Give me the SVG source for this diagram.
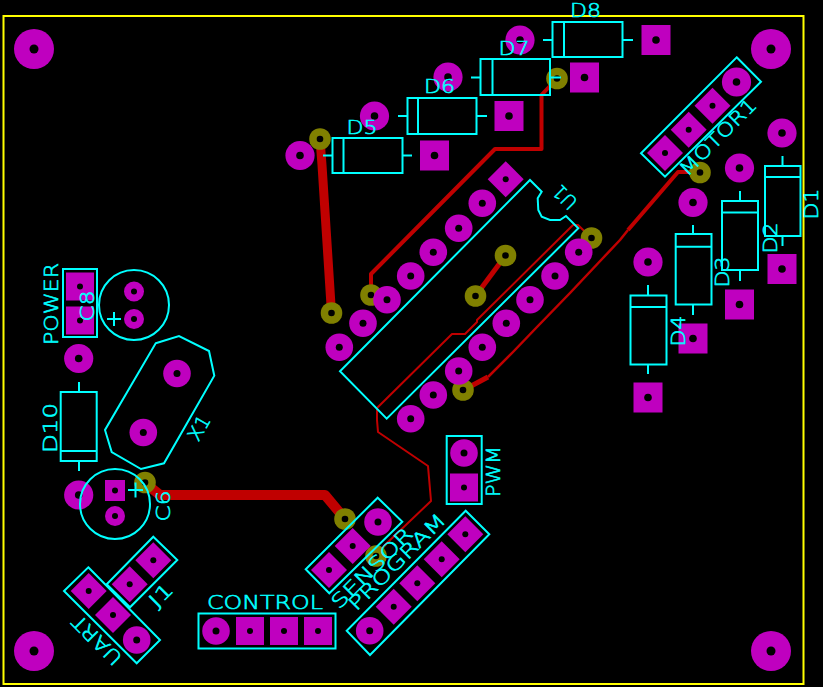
<svg xmlns="http://www.w3.org/2000/svg" xmlns:xlink="http://www.w3.org/1999/xlink" width="823" height="687" viewBox="0 0 823 687">
<style>
.s{fill:none;stroke:#00ffff;stroke-width:2}
.t{fill:#00ffff;stroke:#00ffff;stroke-width:.6;font-family:"DejaVu Sans","Liberation Sans",sans-serif;font-weight:200;font-size:19px;text-anchor:middle}
.p{fill:#bf00bf}
.h{fill:#000}
.v{fill:#808000}
.r{fill:none;stroke:#c00000;stroke-linejoin:round}
</style>
<defs>
<g id="padR"><circle class="p" r="13.8"/><circle class="h" r="3.5"/></g>
<g id="padL"><circle class="p" r="14.6"/><circle class="h" r="3.8"/></g>
<g id="padM"><circle class="p" r="20"/><circle class="h" r="4.5"/></g>
<g id="padC"><circle class="p" r="10"/><circle class="h" r="3"/></g>
<g id="padS"><rect class="p" x="-14.500" y="-15" width="29" height="30"/><circle class="h" r="3.800"/></g>
<g id="padQ"><rect class="p" x="-14" y="-14" width="28" height="28"/><circle class="h" r="3"/></g>
<g id="padD"><path class="p" d="M0-18 18 0 0 18-18 0Z"/><circle class="h" r="3"/></g>
<g id="via"><circle class="v" r="10.800"/><circle class="h" r="3.300"/></g>
</defs>
<rect width="823" height="687" fill="#000"/>
<rect x="3.500" y="16" width="800" height="668" fill="none" stroke="#ffff00" stroke-width="2"/>

<g id="connectors">
<path class="r" stroke-width="9" d="M320 139 322 165 331.500 313"/>
<path class="r" stroke-width="10" d="M145 483 160 495H325L345 519"/>
<path class="r" stroke-width="4" d="M371 295V274L495 149H541.500V95L557 78.500"/>
<path class="r" stroke-width="5" d="M505.500 255.500 475.500 296"/>
<path class="r" stroke-width="4" d="M700 172H678L628 230"/>
<path class="r" stroke-width="2.500" d="M628 230 620 240 603 258 570 293 537 327 513 352 488 377"/>
<path class="r" stroke-width="5" d="M488 377 473 385 463 390"/>
<path class="r" stroke-width="2" d="M591.500 238 578 225H573L477 320V322L465 334H452L377 408 377 420 378 432 428 466 431 501 387 543 376 556"/>
</g>

<g id="vias">
<use href="#via" x="320" y="139"/>
<use href="#via" x="331.500" y="313"/>
<use href="#via" x="371" y="295"/>
<use href="#via" x="557" y="78.500"/>
<use href="#via" x="700" y="172.500"/>
<use href="#via" x="591.500" y="238"/>
<use href="#via" x="505.500" y="255.500"/>
<use href="#via" x="475.500" y="296"/>
<use href="#via" x="463" y="390"/>
<use href="#via" x="145" y="482.500"/>
<use href="#via" x="345" y="519"/>
<use href="#via" x="376" y="556"/>
</g>

<g id="holes">
<use href="#padM" x="34" y="49"/>
<use href="#padM" x="771" y="49"/>
<use href="#padM" x="34" y="651"/>
<use href="#padM" x="771" y="651"/>
</g>

<g id="D8">
<use href="#padL" x="520" y="40"/><use href="#padS" x="656" y="40"/>
<path class="s" d="M543 40H552.500M622.500 40H633M564 22V57"/><rect class="s" x="552.500" y="22" width="70" height="35"/>
<text class="t" transform="translate(585.500,10.500)" y="6.500" textLength="31" lengthAdjust="spacingAndGlyphs">D8</text>
</g>
<g id="D7">
<use href="#padL" x="448" y="77"/><use href="#padS" x="584.500" y="77.500"/>
<path class="s" d="M471 77.500H480.500M550 77.500H561M492.500 59V95"/><rect class="s" x="480.500" y="59" width="69.500" height="36"/>
<text class="t" transform="translate(514,48.500)" y="6.500" textLength="31" lengthAdjust="spacingAndGlyphs">D7</text>
</g>
<g id="D6">
<use href="#padL" x="374.500" y="116"/><use href="#padS" x="509" y="116"/>
<path class="s" d="M398 116H407.500M476.500 116H487M418 98V134"/><rect class="s" x="407.500" y="98" width="69" height="36"/>
<text class="t" transform="translate(439.500,86.500)" y="6.500" textLength="31" lengthAdjust="spacingAndGlyphs">D6</text>
</g>
<g id="D5">
<use href="#padL" x="300" y="155.500"/><use href="#padS" x="434.500" y="155.500"/>
<path class="s" d="M323 155.500H332.500M402.500 155.500H412M343.500 138V173"/><rect class="s" x="332.500" y="138" width="70" height="35"/>
<text class="t" transform="translate(362,127)" y="6.500" textLength="31" lengthAdjust="spacingAndGlyphs">D5</text>
</g>

<g id="D1">
<use href="#padL" x="782" y="133"/><use href="#padS" x="782" y="269"/>
<path class="s" d="M782.500 156V166M782.500 236V246M765 177H800.500"/><rect class="s" x="765" y="166" width="35.500" height="70"/>
<text class="t" transform="translate(811.500,204) rotate(-90)" y="6.500" textLength="31" lengthAdjust="spacingAndGlyphs">D1</text>
</g>
<g id="D2">
<use href="#padL" x="739.500" y="168"/><use href="#padS" x="739.500" y="304.500"/>
<path class="s" d="M740 191V201M740 270V281M722 212.500H758"/><rect class="s" x="722" y="201" width="36" height="69"/>
<text class="t" transform="translate(770.500,238) rotate(-90)" y="6.500" textLength="31" lengthAdjust="spacingAndGlyphs">D2</text>
</g>
<g id="D3">
<use href="#padL" x="693" y="202.500"/><use href="#padS" x="693" y="338.500"/>
<path class="s" d="M693 225V234M693 304.500V315M675.700 246.700H711.500"/><rect class="s" x="675.700" y="234" width="35.800" height="70.500"/>
<text class="t" transform="translate(722.500,272) rotate(-90)" y="6.500" textLength="31" lengthAdjust="spacingAndGlyphs">D3</text>
</g>
<g id="D4">
<use href="#padL" x="648" y="262"/><use href="#padS" x="648" y="397.500"/>
<path class="s" d="M648 285V295.500M648 364.500V374M630.500 307H666.500"/><rect class="s" x="630.500" y="295.500" width="36" height="69"/>
<text class="t" transform="translate(678,331) rotate(-90)" y="6.500" textLength="31" lengthAdjust="spacingAndGlyphs">D4</text>
</g>
<g id="D10">
<use href="#padL" x="78.700" y="358.500"/><use href="#padL" x="78.700" y="495"/>
<path class="s" d="M79 382V392M79 461V471M60.700 451H96.700"/><rect class="s" x="60.700" y="392" width="36" height="69"/>
<text class="t" transform="translate(50.500,428) rotate(-90)" y="6.500" textLength="50" lengthAdjust="spacingAndGlyphs">D10</text>
</g>

<g id="POWER">
<use href="#padQ" x="80" y="286.500"/><use href="#padQ" x="80" y="320.500"/>
<rect class="s" x="63" y="269" width="34" height="68"/>
<text class="t" transform="translate(51,304) rotate(-90)" y="6.500" textLength="82" lengthAdjust="spacingAndGlyphs">POWER</text>
</g>
<g id="C8">
<circle class="s" cx="134" cy="305" r="35"/>
<use href="#padC" x="134" y="291.500"/><use href="#padC" x="134" y="319"/>
<path class="s" d="M107 319H121M114 312V326"/>
<text class="t" transform="translate(87,306) rotate(-90)" y="6.500" textLength="31" lengthAdjust="spacingAndGlyphs">C8</text>
</g>
<g id="X1">
<path class="s" d="M155.700 343.300 179 336 209 351 214.300 375.700 164 463.300 141 469 111.700 452 105 430Z"/>
<use href="#padR" x="177" y="373.500"/><use href="#padR" x="143.300" y="432.500"/>
<text class="t" transform="translate(199,428) rotate(-60)" y="6.500" textLength="26" lengthAdjust="spacingAndGlyphs">X1</text>
</g>
<g id="C6">
<rect class="p" x="105" y="480" width="20" height="21"/><circle class="h" cx="115" cy="490.500" r="3"/>
<use href="#padC" x="115" y="516"/>
<circle class="s" cx="115" cy="504" r="35"/>
<path class="s" d="M128 490H143M135.500 482.500V497.500"/>
<text class="t" transform="translate(163.500,506) rotate(-90)" y="6.500" textLength="31" lengthAdjust="spacingAndGlyphs">C6</text>
</g>
<g id="J1">
<use href="#padD" x="153.300" y="560.300"/><use href="#padD" x="129.700" y="584.300"/>
<path class="s" d="M153.300 536.700 177.300 560 130 607.300 106.700 584.300Z"/>
<text class="t" transform="translate(161,595) rotate(-45)" y="6.500" textLength="26" lengthAdjust="spacingAndGlyphs">J1</text>
</g>
<g id="UART">
<use href="#padD" x="88.700" y="591"/><use href="#padD" x="113" y="615"/><use href="#padR" x="136.700" y="640"/>
<path class="s" d="M88.300 567.300 160 640 136.700 663.300 64 591Z"/>
<text class="t" transform="translate(97,640) rotate(225)" y="6.500" textLength="62" lengthAdjust="spacingAndGlyphs">UART</text>
</g>
<g id="CONTROL">
<use href="#padR" x="216" y="631"/><use href="#padQ" x="250" y="631"/><use href="#padQ" x="284" y="631"/><use href="#padQ" x="318" y="631"/>
<rect class="s" x="198.500" y="613.500" width="137" height="35"/>
<text class="t" transform="translate(265,602)" y="6.500" textLength="116" lengthAdjust="spacingAndGlyphs">CONTROL</text>
</g>
<g id="SENSOR">
<use href="#padR" x="378" y="522"/><use href="#padD" x="352.700" y="546"/><use href="#padD" x="329" y="570"/>
<path class="s" d="M377.700 497.700 402.300 521.700 329.300 593.300 305.700 569.300Z"/>
<text class="t" transform="translate(372,568) rotate(-45)" y="6.500" textLength="106" lengthAdjust="spacingAndGlyphs">SENSOR</text>
</g>
<g id="PROGRAM">
<use href="#padD" x="465.300" y="534.300"/><use href="#padD" x="441.700" y="559.300"/><use href="#padD" x="417.300" y="583.300"/><use href="#padD" x="393.700" y="606.700"/><use href="#padR" x="369.700" y="630.700"/>
<path class="s" d="M465.700 510.700 489.300 534.300 370 655 346.700 630.700Z"/>
<text class="t" transform="translate(397,562) rotate(-45)" y="6.500" textLength="128" lengthAdjust="spacingAndGlyphs">PROGRAM</text>
</g>
<g id="PWM">
<use href="#padR" x="464" y="453"/><use href="#padQ" x="464" y="487.500"/>
<rect class="s" x="446.700" y="436" width="35" height="68"/>
<text class="t" transform="translate(493,471.500) rotate(-90)" y="6.500" textLength="51" lengthAdjust="spacingAndGlyphs">PWM</text>
</g>
<g id="MOTOR1">
<use href="#padL" x="736.500" y="82"/><use href="#padD" x="712.500" y="105.700"/><use href="#padD" x="688.700" y="129.700"/><use href="#padD" x="665" y="153"/>
<path class="s" d="M736.700 57.300 761 81.700 665 176.700 641 153.300Z"/>
<text class="t" transform="translate(718,137) rotate(-45)" y="6.500" textLength="100" lengthAdjust="spacingAndGlyphs">MOTOR1</text>
</g>
<g id="U1">
<use href="#padD" x="505.700" y="179.300"/>
<use href="#padR" x="482.300" y="203.300"/><use href="#padR" x="458.700" y="228.300"/><use href="#padR" x="433.300" y="252.300"/><use href="#padR" x="410.700" y="276"/><use href="#padR" x="387" y="299.700"/><use href="#padR" x="363" y="323.300"/><use href="#padR" x="339.300" y="347.300"/>
<use href="#padR" x="578.700" y="252.300"/><use href="#padR" x="555" y="276"/><use href="#padR" x="530" y="299.700"/><use href="#padR" x="506.300" y="323.300"/><use href="#padR" x="482.300" y="347.300"/><use href="#padR" x="458.700" y="371"/><use href="#padR" x="433.300" y="395"/><use href="#padR" x="410.700" y="418.700"/>
<path class="s" d="M530 180 541.700 191.700 537.700 198.300 538.300 210 541.700 216.700 550 220H560L566 216 578.300 228.300 386.700 418.700 340 371.300Z"/>
<text class="t" transform="translate(565,197) rotate(225)" y="6.500" textLength="26" lengthAdjust="spacingAndGlyphs">U1</text>
</g>
</svg>
